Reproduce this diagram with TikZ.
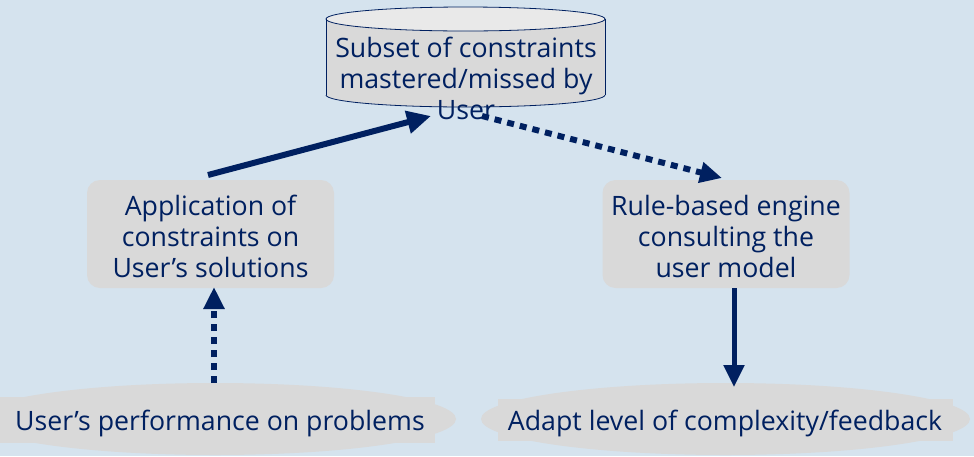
\documentclass[tikz,border=0pt]{standalone}
\usepackage{fontspec}
\setmainfont{Open Sans}
\usetikzlibrary{arrows.meta}
\definecolor{bg}{HTML}{D5E3EE}
\definecolor{navy}{HTML}{002060}
\definecolor{boxgray}{HTML}{D9D9D9}
\definecolor{topgray}{HTML}{E9E9E9}
\begin{document}
\begin{tikzpicture}[x=1pt,y=-1pt,
  font=\fontsize{26.7}{31}\selectfont,
  txt/.style={text=navy, align=center, inner sep=0pt},
  rbox/.style={fill=boxgray, rounded corners=13pt, minimum width=247pt, minimum height=108pt, text=navy, align=center, inner sep=0pt},
  solidarrow/.style={draw=navy, line width=6pt, -{Triangle[length=24pt,width=22pt]}},
  solidarrowb/.style={draw=navy, line width=5pt, -{Triangle[length=22pt,width=20pt]}},
  dotarrow/.style={draw=navy, line width=6pt, dash pattern=on 7pt off 6pt, -{Triangle[length=22pt,width=20pt]}}]
\fill[bg] (0,0) rectangle (974,456);
\useasboundingbox (0,0) rectangle (974,456);
% cylinder
\fill[boxgray] (326,19) rectangle (605,95);
\fill[boxgray] (465.5,95) ellipse[x radius=139.5pt, y radius=12pt];
\fill[topgray] (465.5,19) ellipse[x radius=139.5pt, y radius=12pt];
\draw[navy, line width=0.8pt] (465.5,19) ellipse[x radius=139.5pt, y radius=12pt];
\draw[navy, line width=0.8pt] (326,19) -- (326,95);
\draw[navy, line width=0.8pt] (605,19) -- (605,95);
\begin{scope}
\clip (300,95) rectangle (640,120);
\draw[navy, line width=0.8pt] (465.5,95) ellipse[x radius=139.5pt, y radius=12pt];
\end{scope}
\node[txt] (cyl) at (466,78.5) {Subset of constraints\\mastered/missed by\\User};
% boxes
\node[rbox] (app) at (210.5,234) {};
\node[txt] (apptext) at (210.5,236) {Application of\\constraints on\\User’s solutions};
\node[rbox] (rule) at (726,234) {};
\node[txt] (ruletext) at (726,236) {Rule-based engine\\consulting the\\user model};
% bottom shapes
\fill[boxgray] (215,419) ellipse[x radius=241pt, y radius=36pt];
\fill[boxgray] (0,397) rectangle (435,443);
\fill[boxgray] (725.5,419) ellipse[x radius=244.5pt, y radius=36pt];
\fill[boxgray] (498,399) rectangle (953,441);
\node[txt] (perf) at (220,423) {User’s performance on problems};
\node[txt] (adapt) at (725,423) {Adapt level of complexity/feedback};
% connector ends
\coordinate (appTop) at (208,175);
\coordinate (cylIn) at (431,116);
\coordinate (cylOut) at (482,116);
\coordinate (ruleIn) at (722,178);
\coordinate (perfTop) at (214,383);
\coordinate (appBot) at (214,287);
\coordinate (ruleBot) at (734,288);
\coordinate (adaptTop) at (734,387);
\draw[solidarrow] (appTop) -- (cylIn);
\draw[dotarrow] (cylOut) -- (ruleIn);
\draw[dotarrow] (perfTop) -- (appBot);
\draw[solidarrowb] (ruleBot) -- (adaptTop);
\end{tikzpicture}
\end{document}
